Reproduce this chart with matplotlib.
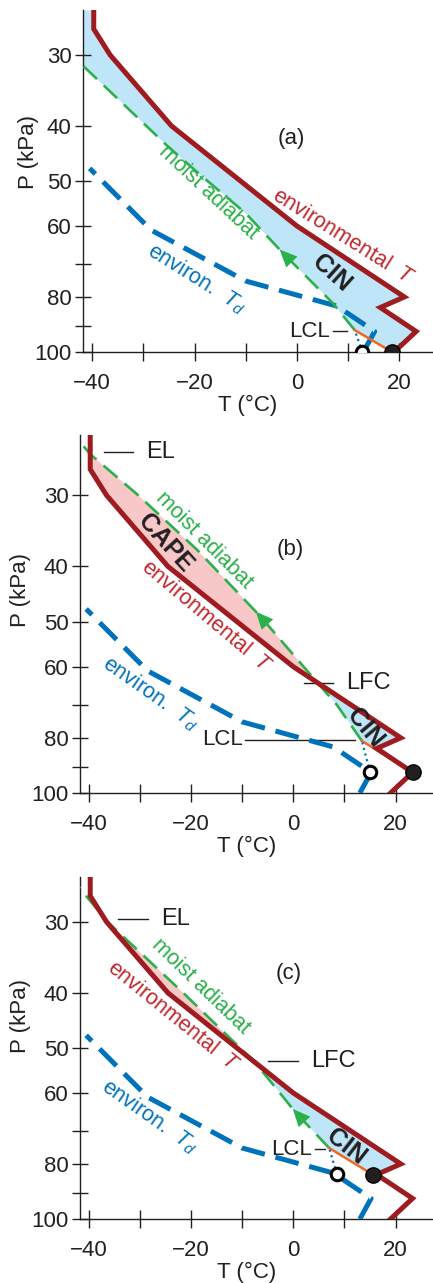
import numpy as np
import matplotlib.pyplot as plt
from matplotlib.ticker import NullLocator

plt.rcParams['font.family'] = ['Liberation Sans', 'DejaVu Sans']
plt.rcParams['mathtext.fontset'] = 'custom'
plt.rcParams['mathtext.rm'] = 'Liberation Sans'
plt.rcParams['mathtext.it'] = 'Liberation Sans:italic'

# environmental sounding, same in all three panels (P in kPa, T in degC)
env_p = [100, 92, 83.5, 80, 60, 40, 30, 27, 22]
env_t = [19, 23.3, 16.3, 21, 0, -24.5, -36.5, -39.7, -39.7]
dew_p = [100, 92, 83, 75, 61, 47.5]
dew_t = [13, 15.2, 7.8, -10, -28.5, -40.5]

# air parcel for each case: start (T, P), start dew point, LCL, then moist adiabat
start_a, dew_a, lcl_a = (18.6, 100), (12.8, 100), (11.3, 91.5)
start_b, dew_b, lcl_b = (23.3, 92), (15.0, 92), (13.4, 81)
start_c, dew_c, lcl_c = (15.5, 83.5), (8.5, 83.3), (7.0, 75)

moist_p_a = [91.5, 82, 67, 57, 48.4, 43.3, 31.4, 25]
moist_t_a = [11.3, 7, -2.7, -10, -19.3, -25.4, -41.7, -53]
moist_p_b = [81, 70, 64, 49, 37.4, 30, 25.4, 24.4]
moist_t_b = [13.4, 8.5, 4.7, -6.4, -18.8, -30.3, -39.7, -41.3]
moist_p_c = [75, 65, 53, 40, 30, 27, 24]
moist_t_c = [7, 0.5, -7.5, -21.5, -36.3, -40.5, -45]

lfc_p = {'a': None, 'b': 64, 'c': 52.7}
el_p = {'a': None, 'b': 25.2, 'c': 29.7}

x_ticks = [-40, -30, -20, -10, 0, 10, 20]
x_ticklabels = ['\u221240', '', '\u221220', '', '0', '', '20']
y_ticks = [30, 40, 50, 60, 70, 80, 90, 100]
y_ticklabels = ['30', '40', '50', '60', '', '80', '', '100']

RED = '#9e1b20'
RED_TXT = '#c1272d'
BLUE = '#0072bc'
GREEN = '#2bb04a'
ORANGE = '#f26522'
CYAN = '#bfe6f8'
PINK = '#f8c8c9'
DARK = '#231f20'


def interp_logp(p_new, p, t):
    p = np.asarray(p, float)
    t = np.asarray(t, float)
    return np.interp(np.log(p_new), np.log(p)[::-1], t[::-1])


def draw_panel(ax, name, start, dew, lcl, mp, mt, lay):
    ax.set_yscale('log')
    ax.set_xlim(*lay['xlim'])
    ax.set_ylim(100, lay['ptop'])

    # CIN / CAPE shading between parcel path and environment
    path_p = [start[1]] + mp
    path_t = [start[0]] + mt
    pg = np.geomspace(start[1], lay['ptop'], 800)
    t_env = interp_logp(pg, env_p, env_t)
    t_par = interp_logp(pg, path_p, path_t)
    cin_mask = t_env >= t_par
    if lfc_p[name] is not None:
        cin_mask &= pg >= lfc_p[name]
    ax.fill_betweenx(pg, t_par, t_env, where=cin_mask, interpolate=True,
                     color=CYAN, lw=0, zorder=1)
    ax.fill_betweenx(pg, t_par, t_env, where=t_par > t_env, interpolate=True,
                     color=PINK, lw=0, zorder=1)

    ax.plot(env_t, env_p, color=RED, lw=3.6, solid_joinstyle='miter', zorder=4)
    ax.plot(dew_t, dew_p, color=BLUE, lw=3.6, dashes=(4.8, 2.2), zorder=3)
    ax.plot(mt, mp, color=GREEN, lw=1.9, dashes=(7, 3.5), zorder=3)
    ax.plot([start[0], lcl[0]], [start[1], lcl[1]], color=ORANGE, lw=1.8, zorder=3)
    ax.plot([dew[0], lcl[0]], [dew[1], lcl[1]], color=BLUE, lw=1.6,
            ls=(0, (1, 1.6)), zorder=3)

    # arrow on the moist adiabat
    pa = lay['arrow_p']
    ax.annotate('', xy=(interp_logp(pa, mp, mt), pa),
                xytext=(interp_logp(pa * 1.05, mp, mt), pa * 1.05),
                arrowprops=dict(arrowstyle='-|>,head_length=0.9,head_width=0.4',
                                color=GREEN, lw=0, shrinkA=0, shrinkB=0,
                                mutation_scale=14), zorder=5)

    ax.plot(*start, 'o', ms=11, color=DARK, mec='black', mew=1, zorder=6)
    ax.plot(*dew, 'o', ms=9, mfc='white', mec='black', mew=2.2, zorder=6)

    # annotations
    for txt, (x, y), rot, col, fs, fw in lay['labels']:
        ax.text(x, y, txt, rotation=rot, rotation_mode='anchor', ha='center',
                va='center', color=col, fontsize=fs, fontweight=fw, zorder=7)
    for txt, (x0, x1), p, side in lay['marks']:
        ax.plot([x0, x1], [p, p], color=DARK, lw=1, zorder=2)
        if side == 'left':
            ax.text(x0 - 0.5, p, txt, ha='right', va='center', fontsize=16, color=DARK)
        else:
            ax.text(x1 + 2.5, p, txt, ha='left', va='center', fontsize=17, color=DARK)

    ax.set_xticks(x_ticks)
    ax.set_xticklabels(x_ticklabels)
    ax.set_yticks(y_ticks)
    ax.set_yticklabels(y_ticklabels)
    ax.yaxis.set_minor_locator(NullLocator())
    ax.tick_params(axis='x', direction='inout', length=13, width=1, pad=8.5,
                   labelsize=16, colors=DARK)
    ax.tick_params(axis='y', direction='inout', length=11.5, width=1, pad=2.5,
                   labelsize=16, colors=DARK)
    for s in ['top', 'right']:
        ax.spines[s].set_visible(False)
    for s in ['left', 'bottom']:
        ax.spines[s].set_linewidth(1)
        ax.spines[s].set_color(DARK)
    ax.set_facecolor('none')
    ax.set_ylabel('P (kPa)', fontsize=16, color=DARK)
    ax.yaxis.set_label_coords(lay['ylab'][0], lay['ylab'][1])
    ax.set_xlabel('T (\u00b0C)', fontsize=16, color=DARK)
    ax.xaxis.set_label_coords(lay['xlab'][0], lay['xlab'][1])


ENV_LBL = 'environmental  $T$'
TD_LBL = 'environ.  $T_d$'

layout = {
    'a': dict(rect=[83/433, 1-352/1283, 350/433, 342/1283], xlim=(-41.8, 26.6), ptop=25,
              arrow_p=66, ylab=(-0.125, 0.585), xlab=(0.469, -0.126),
              labels=[('moist adiabat', (-17.3, 52.3), -43, GREEN, 15.5, 'normal'),
                      (ENV_LBL, (9.0, 62.7), -32, RED_TXT, 15.5, 'normal'),
                      (TD_LBL, (-19.6, 74.2), -32, BLUE, 15.5, 'normal'),
                      ('CIN', (6.8, 72.7), -42, DARK, 18, 'bold'),
                      ('(a)', (-1.0, 42.1), 0, DARK, 16, 'normal')],
              marks=[('LCL', (7.0, 9.8), 92.0, 'left')]),
    'b': dict(rect=[80/433, 1-793/1283, 353/433, 358/1283], xlim=(-41.7, 27.3), ptop=23.5,
              arrow_p=48, ylab=(-0.138, 0.567), xlab=(0.473, -0.12),
              labels=[('moist adiabat', (-17.5, 35.9), -45, GREEN, 15.5, 'normal'),
                      ('CAPE', (-25.0, 36.4), -48, DARK, 18, 'bold'),
                      (ENV_LBL, (-16.9, 49.0), -40, RED_TXT, 15.5, 'normal'),
                      (TD_LBL, (-27.9, 66.8), -35, BLUE, 15.5, 'normal'),
                      ('CIN', (14.1, 77.0), -50, DARK, 18, 'bold'),
                      ('(b)', (-0.6, 37.4), 0, DARK, 16, 'normal')],
              marks=[('EL', (-37.1, -31.3), el_p['b'], 'right'),
                     ('LFC', (2.0, 7.8), lfc_p['b'], 'right'),
                     ('LCL', (-9.4, 12.1), 80.7, 'left')]),
    'c': dict(rect=[80/433, 1-1219/1283, 353/433, 342/1283], xlim=(-41.7, 27.3), ptop=25,
              arrow_p=64, ylab=(-0.138, 0.594), xlab=(0.473, -0.126),
              labels=[('moist adiabat', (-18.2, 39.0), -44, GREEN, 15.5, 'normal'),
                      (ENV_LBL, (-23.4, 44.1), -39, RED_TXT, 15.5, 'normal'),
                      (TD_LBL, (-28.0, 66.1), -35, BLUE, 15.5, 'normal'),
                      ('CIN', (10.4, 74.6), -38, DARK, 18, 'bold'),
                      ('(c)', (-0.9, 37.0), 0, DARK, 16, 'normal')],
              marks=[('EL', (-34.3, -28.4), el_p['c'], 'right'),
                     ('LFC', (-4.9, 0.9), lfc_p['c'], 'right'),
                     ('LCL', (4.2, 6.2), 75.3, 'left')]),
}

fig = plt.figure(figsize=(4.33, 12.83), dpi=100)
panels = [('a', start_a, dew_a, lcl_a, moist_p_a, moist_t_a),
          ('b', start_b, dew_b, lcl_b, moist_p_b, moist_t_b),
          ('c', start_c, dew_c, lcl_c, moist_p_c, moist_t_c)]
for name, st, dw, lc, mp, mt in panels:
    ax = fig.add_axes(layout[name]['rect'])
    draw_panel(ax, name, st, dw, lc, mp, mt, layout[name])

fig.savefig('out.png', dpi=100)
